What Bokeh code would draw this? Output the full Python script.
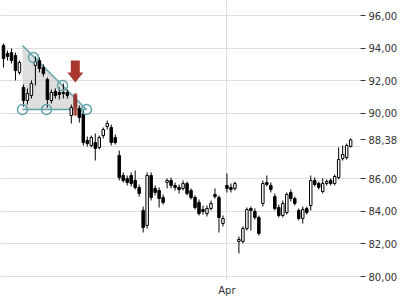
from bokeh.plotting import figure
from bokeh.models import ColumnDataSource, FixedTicker, Range1d
from bokeh.embed import file_html
from bokeh.resources import INLINE

# ---- data ----
opens = [94.16, 93.67, 93.73, 93.55, 92.51, 91.59, 90.79, 91.10, 92.94, 93.24,
         92.81, 92.08, 90.79, 91.34, 91.28, 91.28, 91.28, 89.87, 91.10, 90.30,
         89.99, 88.34, 88.03, 88.21, 87.91, 88.64, 89.20, 89.13, 88.52, 87.42,
         86.19, 86.01, 86.19, 85.89, 85.46, 84.05, 83.13, 86.19, 85.40, 85.27,
         84.84, 85.76, 85.89, 85.58, 85.46, 85.40, 85.70, 85.27, 84.84, 84.54,
         84.11, 83.86, 84.17, 85.03, 84.84, 83.25, 85.58, 85.46, 85.40, 82.15,
         82.15, 82.94, 84.17, 83.99, 83.62, 84.48, 85.76, 85.58, 84.90, 84.23,
         83.74, 83.92, 85.15, 84.78, 84.05, 83.56, 84.17, 84.35, 85.89, 85.70,
         85.21, 85.70, 85.89, 85.70, 86.07, 87.23, 87.29, 87.97]
highs = [94.28, 93.85, 93.98, 93.73, 93.24, 91.77, 91.53, 92.02, 93.49, 93.43,
         93.00, 92.20, 91.46, 91.53, 91.59, 91.83, 91.46, 90.54, 91.22, 90.48,
         90.18, 88.58, 88.64, 88.77, 88.64, 89.13, 89.56, 89.32, 88.71, 87.72,
         86.38, 86.19, 86.38, 86.50, 85.64, 84.29, 86.38, 86.38, 85.58, 85.46,
         85.03, 86.01, 86.07, 85.76, 85.64, 85.89, 85.82, 85.40, 84.97, 84.72,
         84.35, 84.35, 84.66, 85.40, 84.97, 83.74, 86.31, 85.70, 85.82, 82.45,
         83.07, 84.23, 84.29, 84.17, 83.74, 85.89, 86.19, 85.76, 85.09, 84.41,
         84.66, 85.15, 85.33, 84.90, 84.17, 84.29, 84.29, 86.19, 86.07, 85.82,
         86.01, 85.95, 86.01, 86.25, 87.91, 88.03, 88.15, 88.46]
lows = [92.81, 93.24, 93.06, 92.02, 92.38, 90.42, 90.54, 90.91, 91.71, 92.51,
        92.26, 90.36, 90.61, 90.91, 90.85, 90.91, 90.91, 89.38, 89.87, 89.44,
        88.03, 87.97, 87.91, 87.11, 87.79, 88.46, 89.01, 88.03, 88.09, 85.89,
        85.76, 85.58, 85.52, 85.33, 84.90, 82.70, 82.94, 84.66, 84.97, 84.23,
        84.41, 85.40, 85.40, 85.27, 85.09, 85.27, 84.97, 84.72, 84.11, 83.74,
        83.80, 83.68, 84.05, 84.78, 82.70, 83.07, 85.15, 85.15, 85.27, 81.41,
        82.02, 82.82, 82.82, 83.49, 82.51, 84.29, 85.52, 85.15, 84.05, 83.62,
        83.62, 83.80, 84.60, 84.35, 83.43, 83.25, 83.80, 84.05, 85.52, 85.33,
        85.09, 85.58, 85.58, 85.58, 85.95, 87.11, 87.17, 87.91]
closes = [93.36, 93.49, 93.24, 92.63, 93.12, 90.79, 91.22, 91.83, 93.18, 92.75,
          92.44, 90.85, 91.28, 91.10, 91.16, 91.22, 91.10, 90.36, 90.36, 89.75,
          88.21, 88.15, 88.52, 87.85, 88.52, 89.01, 89.38, 88.21, 88.21, 86.07,
          85.89, 85.76, 85.70, 85.46, 85.09, 83.00, 86.19, 84.84, 85.15, 84.78,
          84.54, 85.89, 85.58, 85.46, 85.33, 85.70, 85.09, 84.84, 84.23, 83.86,
          83.99, 84.17, 84.48, 84.90, 83.62, 83.56, 85.40, 85.33, 85.70, 82.27,
          82.94, 84.11, 84.05, 83.62, 82.64, 85.70, 85.64, 85.33, 84.17, 83.74,
          84.48, 85.03, 84.78, 84.48, 83.56, 84.11, 83.92, 85.89, 85.64, 85.46,
          85.70, 85.82, 85.70, 86.13, 87.17, 87.48, 88.03, 88.38]

grid_ticks = [80, 82, 84, 86, 88, 90, 92, 94, 96]
y_ticks = [80, 82, 84, 86, 88.38, 90, 92, 94, 96]
y_tick_labels = ["80,00", "82,00", "84,00", "86,00", "88,38", "90,00", "92,00", "94,00", "96,00"]
month_ticks = [56]
month_labels = ["Apr"]

# triangle pattern (candle index, price)
tri_x = [4.76, 4.76, 20.8]
tri_y = [94.16, 90.24, 90.24]
touch_x = [4.76, 10.78, 20.8, 7.52, 14.79]
touch_y = [90.24, 90.24, 90.24, 93.43, 91.71]
signal_idx = 18

# ---- layout ----
x_start, x_end = -0.75, 89.47
y_start, y_end = 79.755, 96.92
FW, FH = 360, 280
xpp = FW / (x_end - x_start)
ypp = FH / (y_end - y_start)

n = len(opens)
idx = list(range(n))
top = [max(o, c) for o, c in zip(opens, closes)]
bot = [min(o, c) for o, c in zip(opens, closes)]
fill = ["white" if c >= o else "black" for o, c in zip(opens, closes)]
src = ColumnDataSource(dict(x=idx, o=opens, h=highs, l=lows, c=closes,
                            top=top, bot=bot, fill=fill))

p = figure(width=400, height=300, output_backend="svg", toolbar_location=None,
           x_range=Range1d(x_start, x_end), y_range=Range1d(y_start, y_end),
           y_axis_location="right", min_border_left=0, min_border_top=0,
           min_border_right=40, min_border_bottom=20)
p.outline_line_color = None
p.background_fill_color = "white"
p.border_fill_color = "white"

# grid
p.ygrid.ticker = FixedTicker(ticks=grid_ticks)
p.xgrid.ticker = FixedTicker(ticks=month_ticks)
p.grid.grid_line_color = "#dddddd"
p.grid.grid_line_width = 1

# axes
ya = p.yaxis[0]
ya.ticker = FixedTicker(ticks=y_ticks)
ya.major_label_overrides = {t: s for t, s in zip(y_ticks, y_tick_labels)}
ya.axis_line_color = None
ya.major_tick_in = 0
ya.major_tick_out = 5
ya.major_tick_line_color = "#333333"
ya.minor_tick_line_color = None
ya.major_label_standoff = 3
ya.major_label_text_font = "DejaVu Sans"
ya.major_label_text_font_size = "10px"
ya.major_label_text_color = "#333333"

xa = p.xaxis[0]
xa.ticker = FixedTicker(ticks=month_ticks)
xa.major_label_overrides = {t: s for t, s in zip(month_ticks, month_labels)}
xa.axis_line_color = None
xa.major_tick_in = 0
xa.major_tick_out = 0
xa.minor_tick_line_color = None
xa.major_label_standoff = 4
xa.major_label_text_font = "DejaVu Sans"
xa.major_label_text_font_size = "10px"
xa.major_label_text_color = "#333333"

# triangle pattern (underlay)
teal = "#62a3a9"
p.patch(tri_x, tri_y, fill_color="#cccccc", fill_alpha=0.65, line_color=None)
p.line([tri_x[0], tri_x[2]], [tri_y[0], tri_y[2]], line_color=teal, line_width=1.5)
p.line([tri_x[1], tri_x[2]], [tri_y[1], tri_y[2]], line_color=teal, line_width=1.5)

# candles
p.segment(x0="x", y0="h", x1="x", y1="l", source=src, line_color="black", line_width=1)
p.vbar(x="x", width=0.62, top="top", bottom="bot", source=src,
       fill_color="fill", line_color="black", line_width=1)

# touch points
p.scatter(touch_x, touch_y, marker="circle", size=10, fill_color=None,
          line_color=teal, line_width=1.5)

# signal highlight + arrow
red = "#a8382f"
sx = signal_idx
p.rect(x=[sx], y=[(highs[sx] + lows[sx]) / 2], width=4 / xpp,
       height=highs[sx] - lows[sx], fill_color="#b5473d", fill_alpha=0.8, line_color=None)
tip = highs[sx] + 11 / ypp
ax = [sx - 4.5 / xpp, sx + 4.5 / xpp, sx + 4.5 / xpp, sx + 8 / xpp, sx,
      sx - 8 / xpp, sx - 4.5 / xpp]
ay = [tip + 22 / ypp, tip + 22 / ypp, tip + 10 / ypp, tip + 10 / ypp, tip,
      tip + 10 / ypp, tip + 10 / ypp]
p.patch(ax, ay, fill_color=red, line_color=None)

open("out.html", "w").write(file_html(p, INLINE))
